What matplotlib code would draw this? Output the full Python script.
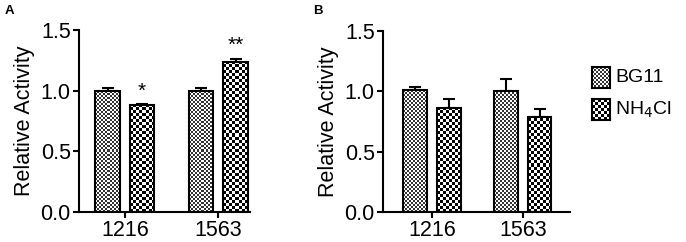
import numpy as np
import matplotlib
matplotlib.use("Agg")
import matplotlib.pyplot as plt

plt.rcParams['font.family'] = ['Liberation Sans', 'DejaVu Sans']

categories = ['1216', '1563']
series = ['BG11', 'NH$_4$Cl']
a_bg11 = [1.00, 1.00]
a_bg11_err = [0.02, 0.025]
a_nh4 = [0.88, 1.24]
a_nh4_err = [0.01, 0.025]
b_bg11 = [1.01, 1.00]
b_bg11_err = [0.03, 0.10]
b_nh4 = [0.86, 0.79]
b_nh4_err = [0.075, 0.06]
a_signif = ['*', '**']
yticks = [0.0, 0.5, 1.0, 1.5]

W, H = 686, 242
fig = plt.figure(figsize=(W / 100, H / 100), dpi=100)

def ax_rect(x0, x1, ytop, ybot):
    return [x0 / W, 1 - ybot / H, (x1 - x0) / W, (ybot - ytop) / H]

axA = fig.add_axes(ax_rect(79, 250, 30, 212))
axB = fig.add_axes(ax_rect(383, 570, 31, 212))

def checker(h, w, cell, dark):
    yy, xx = np.mgrid[0:h, 0:w]
    pat = ((yy // cell + xx // cell) % 2).astype(float)
    return np.where(pat > 0, 1.0, dark)

bw = 0.26
off = 0.185
textures = [(2, 0.2), (3, 0.0)]

def draw_panel(ax, bg, bge, nh, nhe, xlim, signif=None):
    x = np.arange(len(categories))
    ax.set_xlim(*xlim)
    ax.set_ylim(0, 1.5)
    bars = []
    for vals, errs, dx, (cell, dark) in [(bg, bge, -off, textures[0]), (nh, nhe, off, textures[1])]:
        b = ax.bar(x + dx, vals, bw, facecolor='none', edgecolor='black', linewidth=1.5, zorder=3)
        ax.errorbar(x + dx, vals, yerr=[np.zeros(len(errs)), errs], fmt='none',
                    ecolor='black', elinewidth=1.5, capsize=4, capthick=1.5, zorder=2)
        bars.append((b, cell, dark))
    fig.canvas.draw()
    r = fig.canvas.get_renderer()
    for b, cell, dark in bars:
        for p in b.patches:
            bb = p.get_window_extent(r)
            wpx = max(int(round(bb.width)), 1)
            hpx = max(int(round(bb.height)), 1)
            img = checker(hpx, wpx, cell, dark)
            im = ax.imshow(img, cmap='gray', vmin=0, vmax=1, interpolation='nearest',
                           extent=(p.get_x(), p.get_x() + p.get_width(), 0, p.get_height()),
                           aspect='auto', zorder=2.5, origin='lower')
            im.set_clip_path(p)
    ax.set_aspect('auto')
    ax.set_xlim(*xlim)
    ax.set_ylim(0, 1.5)
    ax.set_xticks(x)
    ax.set_xticklabels(categories, fontsize=15.5)
    ax.set_yticks(yticks)
    ax.set_yticklabels([f'{t:.1f}' for t in yticks], fontsize=15.5)
    ax.set_ylabel('Relative Activity', fontsize=15.5, labelpad=4)
    for s in ['top', 'right']:
        ax.spines[s].set_visible(False)
    for s in ['left', 'bottom']:
        ax.spines[s].set_linewidth(1.5)
    ax.tick_params(axis='both', width=1.5, length=4, pad=2)
    if signif:
        for xi, v, e, s in zip(x + off, nh, nhe, signif):
            ax.text(xi, v + e + 0.03, s, ha='center', va='bottom', fontsize=15)

draw_panel(axA, a_bg11, a_bg11_err, a_nh4, a_nh4_err, (-0.49, 1.34), a_signif)
draw_panel(axB, b_bg11, b_bg11_err, b_nh4, b_nh4_err, (-0.54, 1.52))

fig.text(5 / W, 1 - 11 / H, 'A', fontsize=9.5, fontweight='bold', va='center')
fig.text(313 / W, 1 - 11 / H, 'B', fontsize=9.5, fontweight='bold', va='center')

# legend
for i, (name, (cell, dark)) in enumerate(zip(series, textures)):
    y0 = 67 + i * 32
    lax = fig.add_axes(ax_rect(592, 610, y0, y0 + 21))
    lax.imshow(checker(21, 18, cell, dark), cmap='gray', vmin=0, vmax=1,
               interpolation='nearest', aspect='auto')
    lax.set_xticks([]); lax.set_yticks([])
    for s in lax.spines.values():
        s.set_linewidth(1.5)
    fig.text(615 / W, 1 - (y0 + 10.5) / H, name, fontsize=14, va='center', ha='left')

fig.savefig('out.png', dpi=100)
